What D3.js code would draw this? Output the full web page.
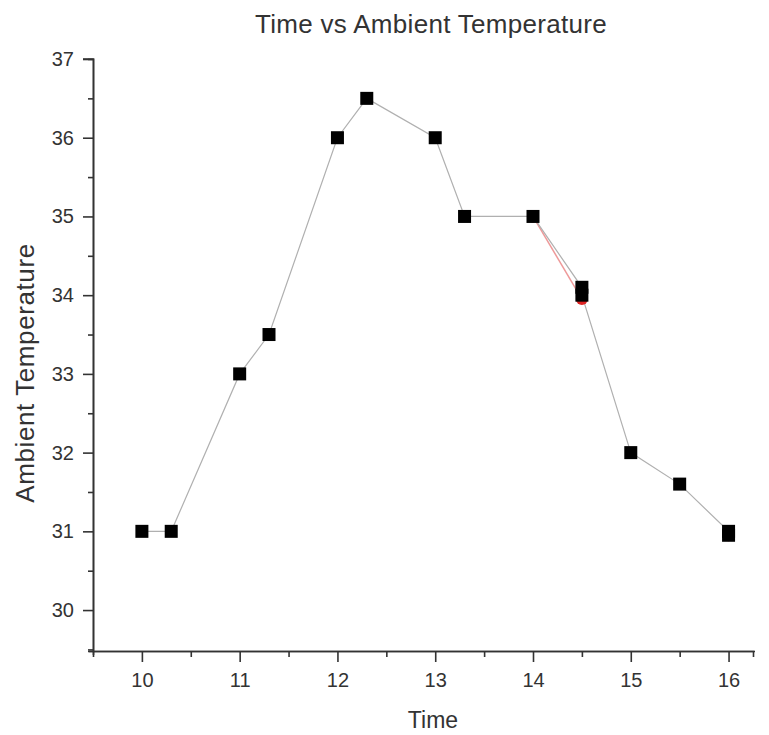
<!DOCTYPE html>
<html>
<head>
<meta charset="utf-8">
<script src="https://cdn.jsdelivr.net/npm/d3@7"></script>
<style>
  body { margin: 0; background: #fff; }
  text { font-family: "Liberation Sans", Arial, sans-serif; fill: #333; }
</style>
</head>
<body>
<svg id="chart" width="769" height="735"></svg>
<script>
// measured values (time in hours, ambient temperature)
const times = [10, 10.3, 11, 11.3, 12, 12.3, 13, 13.3, 14, 14.5, 14.5, 15, 15.5, 16, 16];
const temps = [31, 31, 33, 33.5, 36, 36.5, 36, 35, 35, 34.1, 34.0, 32, 31.6, 31, 30.95];

// faint red series hidden under the black one
const redTimes = [14, 14.5, 16];
const redTemps = [35, 33.95, 30.95];

const xTicks = [10, 11, 12, 13, 14, 15, 16];
const yTicks = [30, 31, 32, 33, 34, 35, 36, 37];

const svg = d3.select("#chart");

const x = d3.scaleLinear().domain([9.5, 16.25]).range([93, 753]);
const y = d3.scaleLinear().domain([29.48, 37]).range([651, 59]);

const data = times.map((t, i) => ({ t: t, v: temps[i] }));
const red = redTimes.map((t, i) => ({ t: t, v: redTemps[i] }));

const line = d3.line().x(d => x(d.t)).y(d => y(d.v));

// axes
const xAxis = svg.append("g")
  .attr("transform", "translate(0,651)")
  .call(d3.axisBottom(x).tickValues(xTicks).tickSize(11).tickPadding(11).tickFormat(d3.format("d")));
xAxis.append("g")
  .call(d3.axisBottom(x).tickValues(d3.range(10.5, 16, 1)).tickSize(6).tickFormat(""));

const yAxis = svg.append("g")
  .attr("transform", "translate(93,0)")
  .call(d3.axisLeft(y).tickValues(yTicks).tickSize(10).tickPadding(9).tickFormat(d3.format("d")));
yAxis.append("g")
  .call(d3.axisLeft(y).tickValues(d3.range(29.5, 37, 1)).tickSize(5).tickFormat(""));

svg.selectAll(".domain").attr("stroke", "#333").attr("stroke-width", 1.6);
svg.selectAll(".tick line").attr("stroke", "#333").attr("stroke-width", 1.6);
svg.selectAll(".tick text").attr("font-size", 20).style("fill", "#333");

// plain domain lines without end caps
xAxis.select(".domain").attr("d", "M89,0.5H755");
yAxis.select(".domain").attr("d", "M0.5,655V59H-10");

// lines
svg.append("path").datum(red.slice(0, 2))
  .attr("fill", "none").attr("stroke", "#e99").attr("stroke-width", 1.5)
  .attr("d", line);

svg.append("path").datum(data)
  .attr("fill", "none").attr("stroke", "#b0b0b0").attr("stroke-width", 1.2)
  .attr("d", line);

svg.selectAll(".red").data(red).enter().append("circle")
  .attr("cx", d => x(d.t)).attr("cy", d => y(d.v)).attr("r", 6)
  .attr("fill", "#d22");

svg.selectAll(".pt").data(data).enter().append("rect")
  .attr("x", d => x(d.t) - 6.5).attr("y", d => y(d.v) - 6.5)
  .attr("width", 13).attr("height", 13)
  .attr("fill", "#000");

// titles
svg.append("text").attr("x", 431).attr("y", 33)
  .attr("text-anchor", "middle").attr("font-size", 26)
  .attr("letter-spacing", 0.3)
  .text("Time vs Ambient Temperature");

svg.append("text").attr("x", 433).attr("y", 728)
  .attr("text-anchor", "middle").attr("font-size", 23)
  .text("Time");

svg.append("text")
  .attr("transform", "translate(34,373) rotate(-90)")
  .attr("text-anchor", "middle").attr("font-size", 26)
  .attr("letter-spacing", 0.6)
  .text("Ambient Temperature");
</script>
</body>
</html>
